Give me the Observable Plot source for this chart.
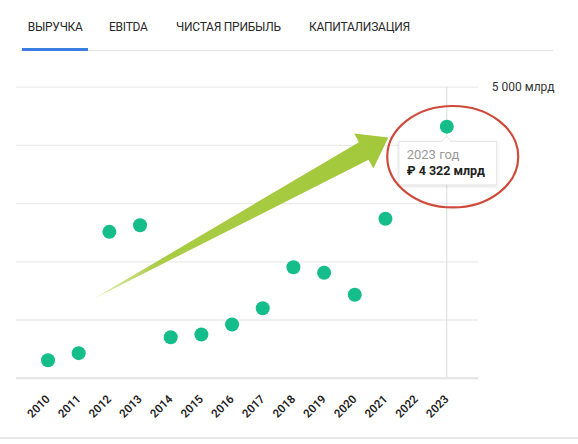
<!DOCTYPE html>
<html><head><meta charset="utf-8">
<script src="https://cdn.jsdelivr.net/npm/d3@7"></script>
<script src="https://cdn.jsdelivr.net/npm/@observablehq/plot@0.6"></script>
<style>
body{margin:0;background:#fff;font-family:Roboto,"Noto Sans",sans-serif;}
#wrap{position:relative;width:578px;height:444px;overflow:hidden;background:#fff}
#tabs{position:relative;height:51px}
.tab{position:absolute;top:19px;font-size:12px;color:#2a2a2a;line-height:16px;white-space:nowrap;letter-spacing:-0.25px}
#tabline{position:absolute;left:20px;top:50px;width:533px;height:1px;background:#e2e2e2}
#tabactive{position:absolute;left:22px;top:48px;width:66px;height:2.5px;background:#3b7de0}
#chart{position:absolute;left:0;top:51px}
#bottomline{position:absolute;left:0;top:437px;width:578px;height:1.5px;background:#e6e6e6}
</style></head>
<body>
<div id="wrap">
  <div id="tabs"></div>
  <div id="chart"></div>
  <div id="bottomline"></div>
</div>
<script>
// ---- data ----
const tabNames = ["ВЫРУЧКА", "EBITDA", "ЧИСТАЯ ПРИБЫЛЬ", "КАПИТАЛИЗАЦИЯ"];
const years   = [2010, 2011, 2012, 2013, 2014, 2015, 2016, 2017, 2018, 2019, 2020, 2021, 2023];
const revenue = [309, 430, 2515, 2629, 704, 751, 923, 1203, 1907, 1811, 1433, 2739, 4322];
const xTicks = [2010, 2011, 2012, 2013, 2014, 2015, 2016, 2017, 2018, 2019, 2020, 2021, 2022, 2023];
const gridValues = [1000, 2000, 3000, 4000, 5000];
const yTicks = [5000];
const yTickLabels = ["5 000 млрд"];
const highlightYear = 2023;
const tooltipTitle = "2023 год";
const tooltipValue = "₽ 4 322 млрд";
// annotation anchors (data coordinates)
const arrowTail = [2011.49, 1352];
const arrowTip  = [2021.11, 4127];
const ringCenter = [2023.21, 3797];

// ---- tabs ----
const tabLeft = [27.7, 109, 176, 309];
const tabs = document.getElementById("tabs");
tabNames.forEach((t, i) => {
  const d = document.createElement("div");
  d.className = "tab"; d.textContent = t; d.style.left = tabLeft[i] + "px";
  tabs.appendChild(d);
});
const l1 = document.createElement("div"); l1.id = "tabline"; tabs.appendChild(l1);
const l2 = document.createElement("div"); l2.id = "tabactive"; tabs.appendChild(l2);

const data = years.map((y, i) => ({year: y, value: revenue[i]}));

const chart = Plot.plot({
  width: 578,
  height: 386,
  marginLeft: 16,
  marginRight: 99.7,
  marginTop: 35.7,
  marginBottom: 59.3,
  style: {fontFamily: "Roboto, 'Noto Sans', sans-serif", background: "transparent", overflow: "visible"},
  x: {type: "linear", domain: [2008.973, 2024.043], label: null},
  y: {domain: [0, 5000], label: null},
  marks: [
    Plot.ruleY(gridValues, {stroke: "#ebebeb", strokeWidth: 1.3}),
    Plot.ruleY([0], {stroke: "#e3e3e3", strokeWidth: 2}),
    Plot.ruleX([highlightYear], {y1: 0, y2: 5000, stroke: "#dcdcdc", strokeWidth: 1}),
    Plot.axisY(yTicks, {anchor: "right", label: null, tickSize: 0, tickPadding: 13, fontSize: 12, fill: "#333",
      tickFormat: d => yTickLabels[yTicks.indexOf(d)]}),
    Plot.axisX(xTicks, {anchor: "bottom", label: null, tickSize: 0, tickPadding: 19, tickRotate: -45, fontSize: 11.5,
      fontWeight: 600, fill: "#222", tickFormat: d => String(d)}),
    Plot.dot(data, {x: "year", y: "value", r: 7, fill: "#14bd89"})
  ]
});
document.getElementById("chart").appendChild(chart);

// ---- annotations ----
const xs = chart.scale("x"), ys = chart.scale("y");
const X = v => xs.apply(v), Y = v => ys.apply(v);
const svg = d3.select(chart);
const defs = svg.append("defs");
const tx = X(arrowTail[0]), ty = Y(arrowTail[1]);
const px = X(arrowTip[0]), py = Y(arrowTip[1]);
const grad = defs.append("linearGradient").attr("id", "arrowGrad")
  .attr("gradientUnits", "userSpaceOnUse")
  .attr("x1", tx).attr("y1", ty).attr("x2", px).attr("y2", py);
grad.append("stop").attr("offset", 0).attr("stop-color", "#e2efb4");
grad.append("stop").attr("offset", 0.22).attr("stop-color", "#aacc46");
grad.append("stop").attr("offset", 1).attr("stop-color", "#a3c83a");
const f = defs.append("filter").attr("id", "tipShadow").attr("x", "-20%").attr("y", "-30%").attr("width", "140%").attr("height", "160%");
f.append("feDropShadow").attr("dx", 0).attr("dy", 1).attr("stdDeviation", 1.5).attr("flood-color", "#000").attr("flood-opacity", 0.18);

// arrow polygon
const dx = px - tx, dy = py - ty, L = Math.hypot(dx, dy);
const ux = dx / L, uy = dy / L, nx = -uy, ny = ux;
const headLen = 28, headHalf = 20, shaftHalf = 10;
const bx = px - ux * headLen, by = py - uy * headLen;
const pts = [
  [tx, ty],
  [bx + nx * shaftHalf, by + ny * shaftHalf],
  [bx + nx * headHalf, by + ny * headHalf],
  [px, py],
  [bx - nx * headHalf, by - ny * headHalf],
  [bx - nx * shaftHalf, by - ny * shaftHalf]
];
svg.append("polygon").attr("points", pts.map(p => p.join(",")).join(" ")).attr("fill", "url(#arrowGrad)");

// tooltip
const cx = X(highlightYear), cy = Y(revenue[years.indexOf(highlightYear)]);
const g = svg.append("g").attr("text-anchor", "start");
const bxl = cx - 47.3, byt = cy + 15.3, bw = 97.7, bh = 43.4;
g.append("rect").attr("x", bxl).attr("y", byt).attr("width", bw).attr("height", bh)
  .attr("fill", "#fff").attr("stroke", "#e4e4e4").attr("stroke-width", 0.8).attr("filter", "url(#tipShadow)");
g.append("path").attr("d", `M${cx - 5.5},${byt + 0.5} L${cx},${byt - 5} L${cx + 5.5},${byt + 0.5}`)
  .attr("fill", "#fff").attr("stroke", "#dcdcdc").attr("stroke-width", 0.8);
g.append("text").attr("x", bxl + 7.7).attr("y", byt + 17.4).attr("font-size", 13).attr("fill", "#9a9a9a")
  .attr("text-anchor", "start").attr("font-family", "Roboto, sans-serif").text(tooltipTitle);
g.append("text").attr("x", bxl + 7.7).attr("y", byt + 34).attr("font-size", 12.5).attr("font-weight", 700).attr("fill", "#222")
  .attr("text-anchor", "start").attr("font-family", "Roboto, sans-serif").text(tooltipValue);

// red ring
svg.append("ellipse").attr("cx", X(ringCenter[0])).attr("cy", Y(ringCenter[1]))
  .attr("rx", 65.5).attr("ry", 50.7).attr("fill", "none").attr("stroke", "#cf4a3b").attr("stroke-width", 2.2);
</script>
</body></html>
